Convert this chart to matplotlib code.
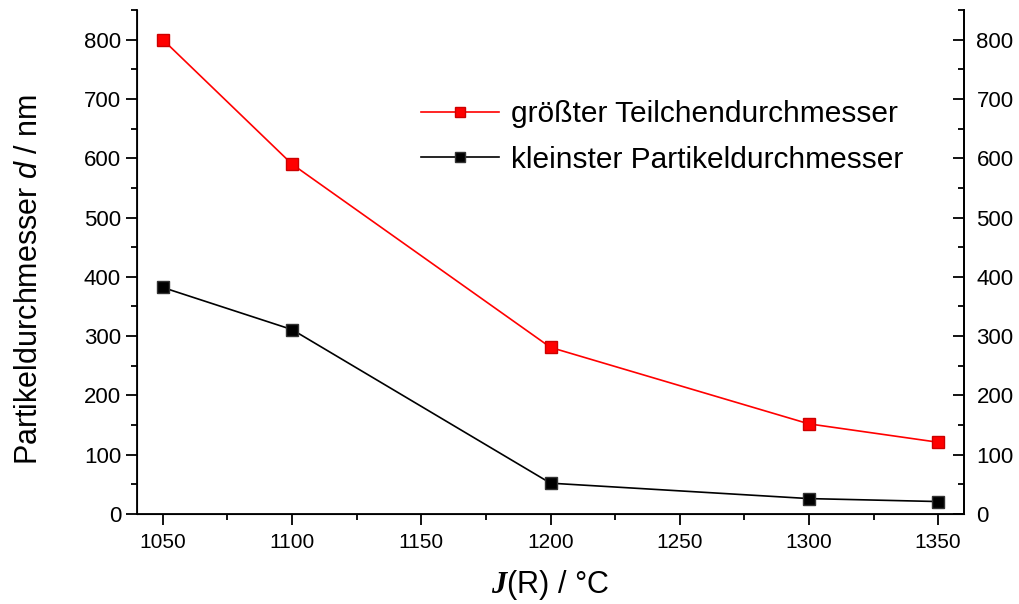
import numpy as np
import matplotlib
matplotlib.use('Agg')
import matplotlib.pyplot as plt
from matplotlib.ticker import MultipleLocator

plt.rcParams['font.family'] = ['Liberation Sans', 'DejaVu Sans']
plt.rcParams['mathtext.fontset'] = 'custom'
plt.rcParams['mathtext.it'] = 'Liberation Sans:italic'
plt.rcParams['mathtext.rm'] = 'Liberation Sans'
plt.rcParams['mathtext.cal'] = 'Liberation Serif:italic:bold'

# Daten
temperatur = [1050, 1100, 1200, 1300, 1350]
groesster = [800, 590, 281, 152, 121]
kleinster = [382, 311, 52, 26, 21]

fig = plt.figure(figsize=(10.2, 6.04), dpi=100)
ax = fig.add_axes([137/1020, 90/604, (964-137)/1020, (514-10)/604])

ax.plot(temperatur, groesster, color='red', lw=1.2, marker='s', ms=8,
        mfc='red', mec='#cc0000', label='größter Teilchendurchmesser')
ax.plot(temperatur, kleinster, color='black', lw=1.2, marker='s', ms=8,
        mfc='black', mec='#333333', label='kleinster Partikeldurchmesser')

ax.set_xlim(1040, 1360)
ax.set_ylim(0, 850)
ax.xaxis.set_major_locator(MultipleLocator(50))
ax.xaxis.set_minor_locator(MultipleLocator(25))
ax.yaxis.set_major_locator(MultipleLocator(100))
ax.yaxis.set_minor_locator(MultipleLocator(50))

ax.spines['top'].set_visible(False)
for s in ['left', 'right', 'bottom']:
    ax.spines[s].set_linewidth(1.3)

ax.tick_params(axis='x', which='both', direction='out', top=False, labelsize=15, width=1.3, pad=6)
ax.tick_params(axis='x', which='major', length=8)
ax.tick_params(axis='x', which='minor', length=4)
ax.tick_params(axis='y', which='both', direction='out', right=False, labelsize=16, width=1.3)
ax.tick_params(axis='y', which='major', length=8)
ax.tick_params(axis='y', which='minor', length=4)

ax2 = ax.twinx()
ax2.set_ylim(ax.get_ylim())
ax2.yaxis.set_major_locator(MultipleLocator(100))
ax2.yaxis.set_minor_locator(MultipleLocator(50))
ax2.spines['top'].set_visible(False)
ax2.spines['right'].set_linewidth(1.3)
ax2.tick_params(axis='y', which='both', direction='in', labelsize=16, width=1.3, pad=9)
ax2.tick_params(axis='y', which='major', length=8)
ax2.tick_params(axis='y', which='minor', length=4)

ax.set_xlabel(r'$\mathcal{J}$(R) / °C', fontsize=22)
ax.xaxis.set_label_coords(0.5, -0.108)
ax.set_ylabel(r'Partikeldurchmesser $d$ / nm', fontsize=22)
ax.yaxis.set_label_coords(-0.112, 0.466)

ax.legend(loc='upper left', bbox_to_anchor=(421/1020, 1 - 100/604),
          bbox_transform=fig.transFigure, frameon=False, borderpad=0,
          borderaxespad=0, fontsize=21.5, handlelength=2.6,
          labelspacing=0.6, handletextpad=0.4, markerscale=0.85)

fig.savefig('out.png', dpi=100)
